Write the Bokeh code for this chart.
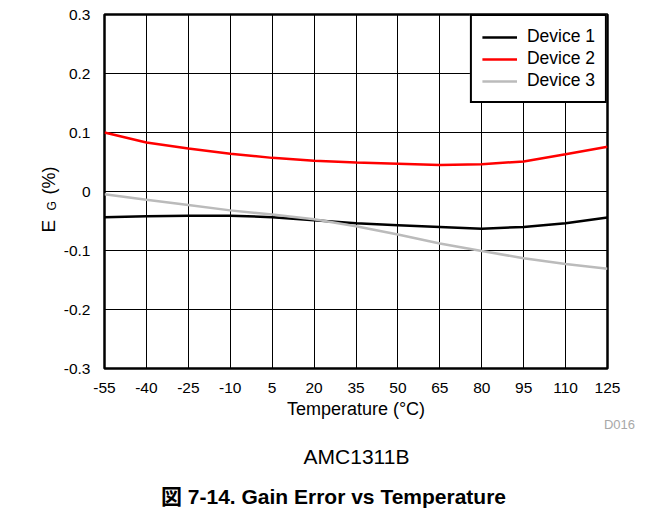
from bokeh.plotting import figure
from bokeh.models import Range1d, FixedTicker, Label, Legend, LegendItem
from bokeh.embed import file_html
from bokeh.resources import INLINE
import math

# ---- data ----
temperature = [-55, -40, -25, -10, 5, 20, 35, 50, 65, 80, 95, 110, 125]
device1 = [-0.0435, -0.042, -0.041, -0.041, -0.0435, -0.0486, -0.054, -0.057, -0.060, -0.063, -0.060, -0.054, -0.044]
device2 = [0.100, 0.083, 0.073, 0.064, 0.057, 0.052, 0.049, 0.047, 0.045, 0.046, 0.051, 0.063, 0.076]
device3 = [-0.0045, -0.014, -0.023, -0.032, -0.039, -0.047, -0.059, -0.073, -0.088, -0.101, -0.113, -0.123, -0.131]

x_ticks = [-55, -40, -25, -10, 5, 20, 35, 50, 65, 80, 95, 110, 125]
x_tick_labels = ["-55", "-40", "-25", "-10", "5", "20", "35", "50", "65", "80", "95", "110", "125"]
y_ticks = [-0.3, -0.2, -0.1, 0, 0.1, 0.2, 0.3]
y_tick_labels = ["-0.3", "-0.2", "-0.1", "0", "0.1", "0.2", "0.3"]

series_names = ["Device 1", "Device 2", "Device 3"]
series_colors = ["#000000", "#FF0000", "#BBBBBB"]

FONT = "Liberation Sans"

W, H = 663, 508
p = figure(width=W, height=H, output_backend="svg", toolbar_location=None,
           x_range=Range1d(-55, 125), y_range=Range1d(-0.3, 0.3),
           min_border_left=104, min_border_right=56, min_border_top=14, min_border_bottom=140)
p.background_fill_color = "white"
p.border_fill_color = "white"
p.outline_line_color = "black"
p.outline_line_width = 2.5
p.outline_line_alpha = 1

# axes
p.xaxis.ticker = FixedTicker(ticks=x_ticks)
p.yaxis.ticker = FixedTicker(ticks=y_ticks)
p.xaxis.major_label_overrides = {t: l for t, l in zip(x_ticks, x_tick_labels)}
p.yaxis.major_label_overrides = {t: l for t, l in zip(y_ticks, y_tick_labels)}
for ax in (p.xaxis, p.yaxis):
    ax.axis_line_color = None
    ax.major_tick_line_color = None
    ax.minor_tick_line_color = None
    ax.major_label_text_font = FONT
    ax.major_label_text_font_size = "15.5px"
    ax.major_label_text_color = "black"
p.xaxis.major_label_standoff = 8
p.yaxis.major_label_standoff = 8
p.xaxis.axis_label = "Temperature (°C)"
p.xaxis.axis_label_text_font = FONT
p.xaxis.axis_label_text_font_size = "18px"
p.xaxis.axis_label_text_font_style = "normal"
p.xaxis.axis_label_text_color = "black"
p.xaxis.axis_label_standoff = 3

# grid
for g in (p.xgrid, p.ygrid):
    g.grid_line_color = "black"
    g.grid_line_width = 1
    g.grid_line_alpha = 1

# lines
items = []
for name, col, ys in zip(series_names, series_colors, [device1, device2, device3]):
    r = p.line(temperature, ys, line_color=col, line_width=2.5)
    items.append(LegendItem(label=name, renderers=[r]))

legend = Legend(items=items, location="top_right", margin=0, padding=10, spacing=1,
                label_height=20, glyph_height=20, glyph_width=35, label_standoff=10,
                border_line_color="black", border_line_width=2.5, border_line_alpha=1,
                background_fill_color="white", background_fill_alpha=1,
                label_text_font=FONT, label_text_font_size="17.5px",
                label_text_color="black")
p.add_layout(legend)

# y-axis label: E with subscript G, then (%)  (canvas units, in the left side panel)
def ylab(x, y, text, size):
    return Label(x=x, y=y, x_units="canvas", y_units="canvas", text=text,
                 angle=math.pi / 2, text_align="left", text_baseline="alphabetic",
                 text_font=FONT, text_font_size=size, text_color="black")

p.add_layout(ylab(48, 232, "E", "19px"), "left")
p.add_layout(ylab(51, 210, "G", "12px"), "left")
p.add_layout(ylab(48, 194, "(%)", "18px"), "left")

# extra texts below the plot
def blab(x, y, text, size, color="black", style="normal", font=FONT):
    return Label(x=x, y=y, x_units="canvas", y_units="canvas", text=text,
                 text_align="center", text_baseline="alphabetic",
                 text_font=font, text_font_size=size, text_font_style=style,
                 text_color=color)

p.add_layout(blab(619, 424, "D016", "13px", color="#A8A8A8"), "below")
p.add_layout(blab(356, 455.5, "AMC1311B", "21px"), "below")
p.add_layout(blab(333, 496, "図 7-14. Gain Error vs Temperature", "21px",
                  style="bold", font=FONT + ", Noto Sans CJK JP"), "below")

open("out.html", "w").write(file_html(p, INLINE))
